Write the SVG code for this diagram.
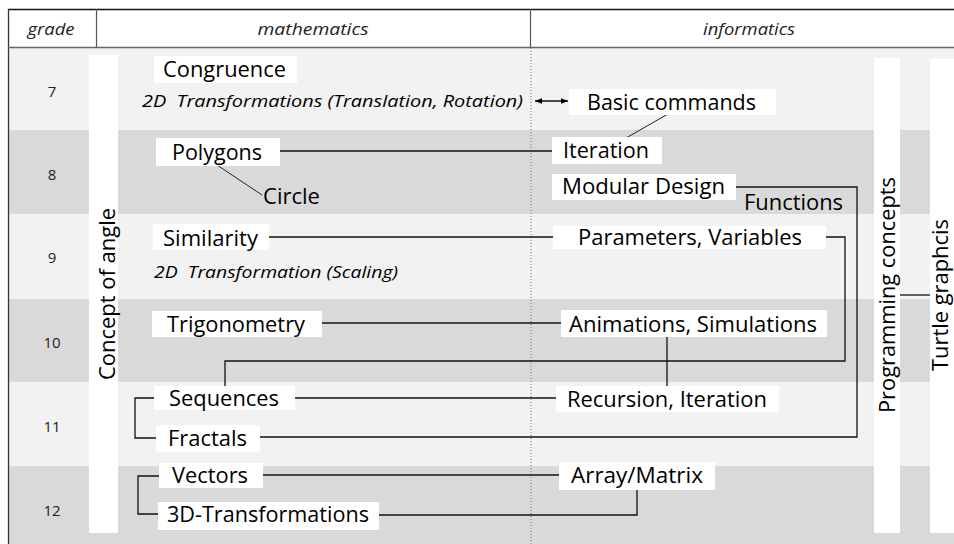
<svg xmlns="http://www.w3.org/2000/svg" width="954" height="544" viewBox="0 0 954 544">
  <defs>
    <style>
      .band-a { fill: #f2f2f2; }
      .band-b { fill: #d9d9d9; }
      .box { fill: #ffffff; }
      .lbl { font-family: "Open Sans", "Liberation Sans", sans-serif; font-size: 21.5px; fill: #000; }
      .ital { font-family: "Open Sans", "Liberation Sans", sans-serif; font-size: 16.5px; font-style: italic; fill: #000; }
      .head { font-family: "Open Sans", "Liberation Sans", sans-serif; font-size: 16px; font-style: italic; fill: #222; text-anchor: middle; }
      .grade { font-family: "Open Sans", "Liberation Sans", sans-serif; font-size: 15px; fill: #222; text-anchor: middle; }
      .vert { font-family: "Open Sans", "Liberation Sans", sans-serif; font-size: 22px; fill: #000; text-anchor: middle; }
      .wire { fill: none; stroke: #111; stroke-width: 1.3; }
      .thin { fill: none; stroke: #222; stroke-width: 1; }
    </style>
    <marker id="tip" viewBox="0 0 10 10" refX="10" refY="5" markerWidth="7" markerHeight="7" orient="auto-start-reverse" markerUnits="userSpaceOnUse">
      <path d="M0,1 L10,5 L0,9 z" fill="#000"/>
    </marker>
  </defs>

  <!-- page -->
  <rect x="0" y="0" width="954" height="544" fill="#ffffff"/>

  <!-- grade row bands -->
  <g id="bands">
    <rect class="band-a" x="9" y="47" width="945" height="83"/>
    <rect class="band-b" x="9" y="130" width="945" height="84"/>
    <rect class="band-a" x="9" y="214" width="945" height="85"/>
    <rect class="band-b" x="9" y="299" width="945" height="83"/>
    <rect class="band-a" x="9" y="382" width="945" height="84"/>
    <rect class="band-b" x="9" y="466" width="945" height="78"/>
  </g>

  <!-- table frame -->
  <g id="frame">
    <line x1="8" y1="9.5" x2="954" y2="9.5" stroke="#111" stroke-width="1.3"/>
    <line x1="8.5" y1="9" x2="8.5" y2="544" stroke="#333" stroke-width="1.3"/>
    <line x1="96.5" y1="9" x2="96.5" y2="47" stroke="#555" stroke-width="1.2"/>
    <line x1="530.5" y1="9" x2="530.5" y2="47" stroke="#555" stroke-width="1.2"/>
    <line x1="8" y1="47.5" x2="954" y2="47.5" stroke="#666" stroke-width="1.6"/>
    <line x1="531" y1="48" x2="531" y2="544" stroke="#777" stroke-width="1" stroke-dasharray="1 2"/>
  </g>

  <!-- header and grade numbers -->
  <g id="header">
    <text class="head" x="51" y="35" textLength="47" lengthAdjust="spacingAndGlyphs">grade</text>
    <text class="head" x="313" y="35" textLength="111" lengthAdjust="spacingAndGlyphs">mathematics</text>
    <text class="head" x="749" y="35" textLength="92" lengthAdjust="spacingAndGlyphs">informatics</text>
  </g>
  <g id="grades">
    <text class="grade" x="52" y="97">7</text>
    <text class="grade" x="52" y="180">8</text>
    <text class="grade" x="52" y="263">9</text>
    <text class="grade" x="52" y="348">10</text>
    <text class="grade" x="52" y="432">11</text>
    <text class="grade" x="52" y="516">12</text>
  </g>

  <!-- vertical theme bars -->
  <g id="concept-of-angle">
    <rect class="box" x="89" y="55" width="29" height="478"/>
    <text class="vert" transform="translate(115,294) rotate(-90)" textLength="172" lengthAdjust="spacingAndGlyphs">Concept of angle</text>
  </g>
  <g id="programming-concepts">
    <rect class="box" x="874" y="58" width="26" height="475"/>
    <text class="vert" transform="translate(895,295) rotate(-90)" textLength="236" lengthAdjust="spacingAndGlyphs">Programming concepts</text>
  </g>
  <g id="turtle-graphics">
    <rect class="box" x="930" y="59" width="30" height="474"/>
    <text class="vert" transform="translate(948,295) rotate(-90)" textLength="152" lengthAdjust="spacingAndGlyphs">Turtle graphcis</text>
  </g>

  <!-- connectors -->
  <g id="connectors">
    <line class="wire" x1="900" y1="295" x2="930" y2="295"/>
    <line class="wire" x1="535" y1="101" x2="568" y2="101" marker-start="url(#tip)" marker-end="url(#tip)"/>
    <line class="thin" x1="668" y1="114" x2="626" y2="138"/>
    <line class="wire" x1="280" y1="151" x2="552" y2="151"/>
    <line class="thin" x1="217" y1="165" x2="262" y2="195"/>
    <polyline class="wire" points="736,187 857,187 857,437 260,437"/>
    <line class="wire" x1="269" y1="237" x2="553" y2="237"/>
    <polyline class="wire" points="826,237 845,237 845,361 225,361 225,386"/>
    <line class="wire" x1="322" y1="323" x2="561" y2="323"/>
    <line class="wire" x1="667" y1="337" x2="667" y2="386"/>
    <line class="wire" x1="295" y1="398" x2="556" y2="398"/>
    <polyline class="wire" points="154,398 135,398 135,438 156,438"/>
    <line class="wire" x1="263" y1="475" x2="559" y2="475"/>
    <polyline class="wire" points="159,476 138,476 138,514 158,514"/>
    <polyline class="wire" points="379,515 637,515 637,490"/>
  </g>

  <!-- mathematics topics -->
  <g id="congruence">
    <rect class="box" x="154" y="56" width="143" height="27"/>
    <text class="lbl" x="163" y="77" textLength="123" lengthAdjust="spacingAndGlyphs">Congruence</text>
  </g>
  <g id="transformations-2d">
    <text class="ital" x="142" y="107" textLength="381" lengthAdjust="spacingAndGlyphs" xml:space="preserve">2D  Transformations (Translation, Rotation)</text>
  </g>
  <g id="polygons">
    <rect class="box" x="156" y="138" width="124" height="28"/>
    <text class="lbl" x="172" y="160" textLength="90" lengthAdjust="spacingAndGlyphs">Polygons</text>
  </g>
  <g id="circle">
    <text class="lbl" x="263" y="204" textLength="57" lengthAdjust="spacingAndGlyphs">Circle</text>
  </g>
  <g id="similarity">
    <rect class="box" x="153" y="224" width="116" height="26"/>
    <text class="lbl" x="163" y="246" textLength="95" lengthAdjust="spacingAndGlyphs">Similarity</text>
  </g>
  <g id="scaling">
    <text class="ital" x="154" y="278" textLength="244" lengthAdjust="spacingAndGlyphs" xml:space="preserve">2D  Transformation (Scaling)</text>
  </g>
  <g id="trigonometry">
    <rect class="box" x="152" y="311" width="170" height="26"/>
    <text class="lbl" x="167" y="332" textLength="138" lengthAdjust="spacingAndGlyphs">Trigonometry</text>
  </g>
  <g id="sequences">
    <rect class="box" x="154" y="386" width="141" height="24"/>
    <text class="lbl" x="169" y="406" textLength="110" lengthAdjust="spacingAndGlyphs">Sequences</text>
  </g>
  <g id="fractals">
    <rect class="box" x="156" y="425" width="104" height="27"/>
    <text class="lbl" x="168" y="446" textLength="79" lengthAdjust="spacingAndGlyphs">Fractals</text>
  </g>
  <g id="vectors">
    <rect class="box" x="159" y="463" width="104" height="25"/>
    <text class="lbl" x="172" y="483" textLength="76" lengthAdjust="spacingAndGlyphs">Vectors</text>
  </g>
  <g id="transformations-3d">
    <rect class="box" x="158" y="502" width="221" height="28"/>
    <text class="lbl" x="167" y="522" textLength="202" lengthAdjust="spacingAndGlyphs">3D-Transformations</text>
  </g>

  <!-- informatics topics -->
  <g id="basic-commands">
    <rect class="box" x="569" y="89" width="207" height="26"/>
    <text class="lbl" x="587" y="110" textLength="169" lengthAdjust="spacingAndGlyphs">Basic commands</text>
  </g>
  <g id="iteration">
    <rect class="box" x="552" y="137" width="110" height="27"/>
    <text class="lbl" x="563" y="158" textLength="86" lengthAdjust="spacingAndGlyphs">Iteration</text>
  </g>
  <g id="modular-design">
    <rect class="box" x="552" y="174" width="184" height="26"/>
    <text class="lbl" x="562" y="194" textLength="163" lengthAdjust="spacingAndGlyphs">Modular Design</text>
  </g>
  <g id="functions">
    <text class="lbl" x="744" y="210" textLength="99" lengthAdjust="spacingAndGlyphs">Functions</text>
  </g>
  <g id="parameters-variables">
    <rect class="box" x="553" y="226" width="273" height="23"/>
    <text class="lbl" x="578" y="245" textLength="224" lengthAdjust="spacingAndGlyphs">Parameters, Variables</text>
  </g>
  <g id="animations-simulations">
    <rect class="box" x="561" y="310" width="266" height="27"/>
    <text class="lbl" x="569" y="332" textLength="248" lengthAdjust="spacingAndGlyphs">Animations, Simulations</text>
  </g>
  <g id="recursion-iteration">
    <rect class="box" x="556" y="386" width="223" height="26"/>
    <text class="lbl" x="567" y="407" textLength="200" lengthAdjust="spacingAndGlyphs">Recursion, Iteration</text>
  </g>
  <g id="array-matrix">
    <rect class="box" x="559" y="462" width="156" height="28"/>
    <text class="lbl" x="571" y="483" textLength="132" lengthAdjust="spacingAndGlyphs">Array/Matrix</text>
  </g>
</svg>
